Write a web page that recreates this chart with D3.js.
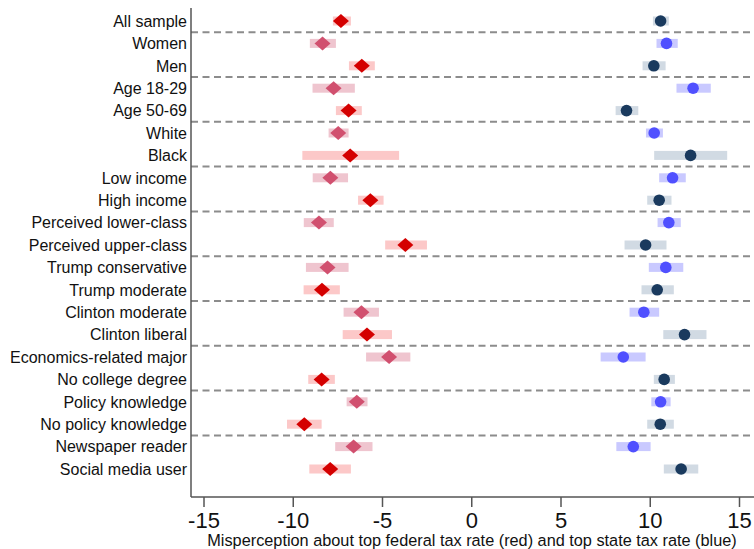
<!DOCTYPE html>
<html>
<head>
<meta charset="utf-8">
<script src="https://cdn.jsdelivr.net/npm/d3@7"></script>
<style>
  body { margin: 0; background: #fff; }
  text { font-family: "Liberation Sans", Arial, Helvetica, sans-serif; fill: #111; }
</style>
</head>
<body>
<div id="chart"></div>
<script>
// categories, top to bottom
const categories = [
  'All sample', 'Women', 'Men', 'Age 18-29', 'Age 50-69', 'White', 'Black',
  'Low income', 'High income', 'Perceived lower-class', 'Perceived upper-class',
  'Trump conservative', 'Trump moderate', 'Clinton moderate', 'Clinton liberal',
  'Economics-related major', 'No college degree', 'Policy knowledge',
  'No policy knowledge', 'Newspaper reader', 'Social media user'
];

// federal misperception (red): estimate and CI
const fedMean = [-7.33, -8.36, -6.16, -7.74, -6.90, -7.48, -6.81, -7.92, -5.68, -8.56, -3.72,
  -8.08, -8.39, -6.18, -5.87, -4.63, -8.41, -6.44, -9.38, -6.62, -7.93];
const fedLo = [-7.78, -9.07, -6.88, -8.92, -7.61, -8.02, -9.49, -8.91, -6.37, -9.41, -4.85,
  -9.29, -9.42, -7.18, -7.23, -5.92, -9.16, -7.01, -10.35, -7.65, -9.10];
const fedHi = [-6.77, -7.61, -5.43, -6.55, -6.16, -6.90, -4.07, -6.93, -4.94, -7.73, -2.51,
  -6.90, -7.39, -5.20, -4.47, -3.44, -7.67, -5.84, -8.41, -5.56, -6.77];

// state misperception (blue): estimate and CI
const stateMean = [10.58, 10.91, 10.20, 12.40, 8.67, 10.22, 12.26, 11.25, 10.50, 11.04, 9.74,
  10.87, 10.39, 9.64, 11.92, 8.49, 10.78, 10.58, 10.56, 9.05, 11.73];
const stateLo = [10.15, 10.35, 9.57, 11.47, 8.06, 9.76, 10.22, 10.50, 9.83, 10.41, 8.56,
  9.92, 9.51, 8.84, 10.73, 7.22, 10.20, 10.06, 9.83, 8.10, 10.76];
const stateHi = [11.04, 11.54, 10.86, 13.39, 9.33, 10.71, 14.31, 11.99, 11.19, 11.71, 10.91,
  11.85, 11.32, 10.50, 13.15, 9.74, 11.38, 11.14, 11.32, 10.02, 12.69];

const xTicks = [-15, -10, -5, 0, 5, 10, 15];

const width = 754, height = 549;
const axisX = 191, axisY = 497;

const svg = d3.select('#chart')
  .append('svg')
  .attr('width', width)
  .attr('height', height);

const x = d3.scaleLinear().domain([-15, 15]).range([204, 739.5]);
const y = d3.scalePoint().domain(categories).range([21, 469]);
const step = y.step();

// colours: even rows dark, odd rows light
const redMark = i => i % 2 === 0 ? '#d40000' : '#d1506f';
const redBar = i => i % 2 === 0 ? '#fcc8c8' : '#efc5cf';
const blueMark = i => i % 2 === 0 ? '#1a3a5e' : '#5050ff';
const blueBar = i => i % 2 === 0 ? '#d1dae3' : '#c9c9ff';

const rows = categories.map((c, i) => ({
  cat: c, i,
  fm: fedMean[i], fl: fedLo[i], fh: fedHi[i],
  sm: stateMean[i], sl: stateLo[i], sh: stateHi[i]
}));

// dashed group separators (after row 0, then every two rows)
const seps = categories.slice(0, -1).map((c, i) => i).filter(i => i % 2 === 0);
svg.append('g')
  .selectAll('line')
  .data(seps)
  .join('line')
  .attr('x1', axisX)
  .attr('x2', width)
  .attr('y1', i => y(categories[i]) + step / 2)
  .attr('y2', i => y(categories[i]) + step / 2)
  .attr('stroke', '#8c8c8c')
  .attr('stroke-width', 2)
  .attr('stroke-dasharray', '7,4.5');

const barH = 9;

// CI bars
svg.append('g')
  .selectAll('rect')
  .data(rows)
  .join('rect')
  .attr('x', d => x(d.fl))
  .attr('width', d => x(d.fh) - x(d.fl))
  .attr('y', d => y(d.cat) - barH / 2)
  .attr('height', barH)
  .attr('fill', d => redBar(d.i));

svg.append('g')
  .selectAll('rect')
  .data(rows)
  .join('rect')
  .attr('x', d => x(d.sl))
  .attr('width', d => x(d.sh) - x(d.sl))
  .attr('y', d => y(d.cat) - barH / 2)
  .attr('height', barH)
  .attr('fill', d => blueBar(d.i));

// red diamonds
svg.append('g')
  .selectAll('path')
  .data(rows)
  .join('path')
  .attr('d', 'M0,-7L8,0L0,7L-8,0Z')
  .attr('transform', d => `translate(${x(d.fm)},${y(d.cat)})`)
  .attr('fill', d => redMark(d.i));

// blue circles
svg.append('g')
  .selectAll('circle')
  .data(rows)
  .join('circle')
  .attr('cx', d => x(d.sm))
  .attr('cy', d => y(d.cat))
  .attr('r', 5.8)
  .attr('fill', d => blueMark(d.i));

// category labels
svg.append('g')
  .selectAll('text')
  .data(categories)
  .join('text')
  .attr('x', 187)
  .attr('y', d => y(d))
  .attr('dy', '0.36em')
  .attr('text-anchor', 'end')
  .style('font-size', '16px')
  .text(d => d);

// axes lines
svg.append('line')
  .attr('x1', axisX).attr('x2', axisX)
  .attr('y1', 8).attr('y2', axisY)
  .attr('stroke', '#555').attr('stroke-width', 1.5);

svg.append('line')
  .attr('x1', axisX).attr('x2', width)
  .attr('y1', axisY).attr('y2', axisY)
  .attr('stroke', '#555').attr('stroke-width', 1.5);

// x ticks
const tg = svg.append('g')
  .selectAll('g')
  .data(xTicks)
  .join('g')
  .attr('transform', d => `translate(${x(d)},0)`);

tg.append('line')
  .attr('y1', axisY).attr('y2', axisY + 10)
  .attr('stroke', '#555').attr('stroke-width', 1.5);

tg.append('text')
  .attr('y', 528)
  .attr('text-anchor', 'middle')
  .style('font-size', '22px')
  .text(d => d < 0 ? '-' + Math.abs(d) : d);

// x axis title
svg.append('text')
  .attr('x', 472)
  .attr('y', 546)
  .attr('text-anchor', 'middle')
  .style('font-size', '16.3px')
  .text('Misperception about top federal tax rate (red) and top state tax rate (blue)');
</script>
</body>
</html>
